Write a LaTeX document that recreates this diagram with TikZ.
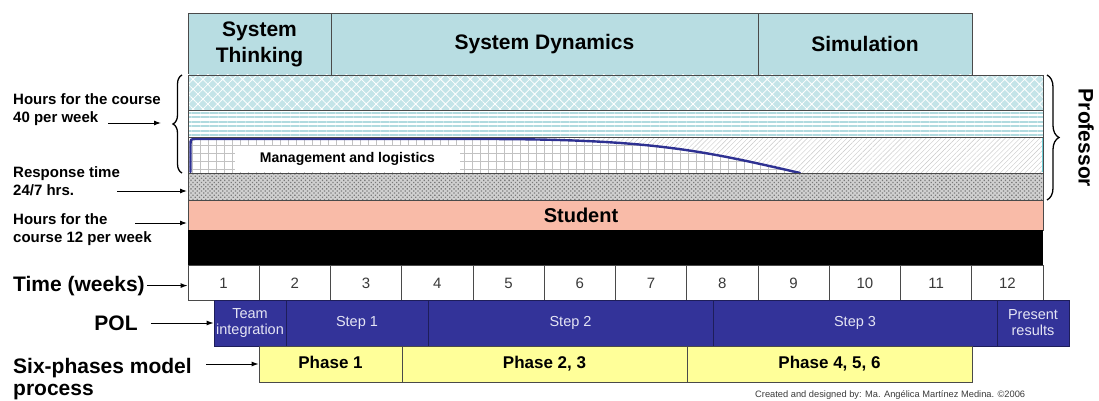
\documentclass[tikz,border=0pt]{standalone}
\usepackage{fontspec}
\setmainfont{Liberation Sans}
\usetikzlibrary{patterns,patterns.meta,arrows.meta,decorations.pathreplacing}
\definecolor{hdr}{HTML}{B8DDE2}
\definecolor{bandA}{HTML}{C4E4E8}
\definecolor{bandB}{HTML}{B0DADF}
\definecolor{diag}{HTML}{C8C8C8}
\definecolor{gridc}{HTML}{C2C2C2}
\definecolor{dotc}{HTML}{7A7A7A}
\definecolor{dotbg}{HTML}{D0D0D0}
\definecolor{studc}{HTML}{F9BBA8}
\definecolor{polc}{HTML}{333399}
\definecolor{polline}{HTML}{1E1E5A}
\definecolor{poltext}{HTML}{E4E4F4}
\definecolor{phasec}{HTML}{FFFF99}
\definecolor{edgec}{HTML}{4A4A4A}
\definecolor{curvec}{HTML}{2E3192}
\definecolor{numc}{HTML}{3A3A3A}
\definecolor{edgecyan}{HTML}{70D0D8}
\newcommand{\fsz}[2]{\fontsize{#1}{#2}\selectfont}
\begin{document}
\begin{tikzpicture}[x=1pt,y=-1pt,
  hdrbox/.style={draw=edgec,fill=hdr,line width=0.8pt,inner sep=0pt,align=center,font=\bfseries\fsz{21}{26}},
  weekcell/.style={draw=edgec,fill=white,line width=0.8pt,minimum width=71.25pt,minimum height=35pt,inner sep=0pt,text=numc,font=\fsz{15}{18}},
  polcell/.style={draw=polline,fill=polc,line width=0.8pt,minimum height=46pt,inner sep=0pt,text=poltext,align=center,font=\fsz{14.5}{16}},
  phasecell/.style={draw=edgec,fill=phasec,line width=0.8pt,minimum height=36pt,inner sep=0pt,text height=12.5pt,text depth=3.5pt,font=\bfseries\fsz{17}{20}},
  sidelbl/.style={inner sep=0pt,align=left,font=\bfseries\fsz{15}{18}},
  biglbl/.style={inner sep=0pt,align=left,font=\bfseries\fsz{21}{22}},
  arr/.style={line width=1pt,-{Latex[length=7pt,width=5pt]}},
  bandline/.style={draw=edgec,line width=0.8pt},
  bracestyle/.style={decorate,line width=1.3pt},
]
\useasboundingbox (0,0) rectangle (1099,401);

% header
\node[hdrbox,minimum width=143pt,minimum height=62pt] (hst) at (259.5,44) {System\\Thinking};
\node[hdrbox,minimum width=427pt,minimum height=62pt] (hsd) at (544.5,44) {System Dynamics};
\node[hdrbox,minimum width=214pt,minimum height=62pt] (hsim) at (865,44) {Simulation};

% patterned bands
\fill[bandA] (188,75) rectangle (1043,110);
\path[pattern={Hatch[angle=45,distance=7pt,line width=0.8pt]},pattern color=white] (188,75) rectangle (1043,110);
\path[pattern={Lines[angle=0,distance=4.5pt,line width=2pt]},pattern color=bandB] (188,110) rectangle (1043,137);
\path[pattern={Lines[angle=45,distance=3.5pt,line width=0.4pt]},pattern color=diag] (188,137) rectangle (1043,173);
\fill[dotbg] (188,173) rectangle (1043,200);
\path[pattern={Dots[angle=45,distance=3pt,radius=0.9pt]},pattern color=dotc] (188,173) rectangle (1043,200);

% management region
\path[preaction={fill=white},pattern={Hatch[angle=0,distance=8pt,line width=0.5pt]},pattern color=gridc]
  (190.5,173) -- (190.5,145) .. controls (190.5,139) .. (196.5,139) -- (480,139)
  .. controls (650,139) and (700,150) .. (800,173) -- cycle;
\node[fill=white,inner sep=0pt,minimum width=225pt,minimum height=26pt,font=\bfseries\fsz{14}{16}] (mgmt) at (347.5,158.5) {Management and logistics};
\draw[curvec,line width=2.4pt,line cap=round] (190.5,172) -- (190.5,145) .. controls (190.5,139) .. (196.5,139) -- (480,139)
  .. controls (650,139) and (700,150) .. (800,173);
\draw[edgecyan,line width=1pt] (1042.5,138) -- (1042.5,172);

% band borders
\draw[bandline] (188,75) rectangle (1043,200);
\draw[bandline] (188,110) -- (1043,110);
\draw[bandline] (188,137) -- (1043,137);
\draw[bandline] (188,173) -- (1043,173);

% student and black bands
\path[draw=edgec,fill=studc,line width=0.8pt] (188,200) rectangle (1043,230);
\node[font=\bfseries\fsz{20}{24}] (student) at (581,215) {Student};
\fill[black] (188,230) rectangle (1043,265.5);

% weeks
\foreach \i in {1,...,12}
  \node[weekcell] (w\i) at ({188+71.25*(\i-0.5)},283) {\i};

% POL
\node[polcell,minimum width=72pt] (pol1) at (250,323) {Team\\integration};
\node[polcell,minimum width=142pt] (pol2) at (357,323) {Step 1};
\node[polcell,minimum width=285pt] (pol3) at (570.5,323) {Step 2};
\node[polcell,minimum width=284pt] (pol4) at (855,323) {Step 3};
\node[polcell,minimum width=72pt] (pol5) at (1033,323) {Present\\results};

% phases
\node[phasecell,minimum width=143pt] (ph1) at (330.5,364) {Phase 1};
\node[phasecell,minimum width=285pt] (ph2) at (544.5,364) {Phase 2, 3};
\node[phasecell,minimum width=285pt] (ph3) at (829.5,364) {Phase 4, 5, 6};

% braces
\coordinate (lbtop) at (182,75);
\coordinate (lbbot) at (182,173);
\draw[bracestyle,decoration={brace,amplitude=9pt}] (lbbot) -- (lbtop);
\coordinate (rbtop) at (1047,75);
\coordinate (rbbot) at (1047,200);
\draw[bracestyle,decoration={brace,amplitude=12pt}] (rbtop) -- (rbbot);
\node[rotate=-90,font=\bfseries\fsz{21}{25},inner sep=0pt] (prof) at (1086,138) {Professor};

% left labels
\node[sidelbl,anchor=west] (hrs40) at (13,110) {Hours for the course\\40 per week};
\coordinate (a1s) at (108,123);
\coordinate (a1e) at (161,123);
\draw[arr] (a1s) -- (a1e);
\node[sidelbl,anchor=west] (resp) at (13,181.5) {Response time\\24/7 hrs.};
\coordinate (a2s) at (117,191);
\coordinate (a2e) at (187,191);
\draw[arr] (a2s) -- (a2e);
\node[sidelbl,anchor=west] (hrs12) at (13,230) {Hours for the\\course 12 per week};
\coordinate (a3s) at (135,223);
\coordinate (a3e) at (187,223);
\draw[arr] (a3s) -- (a3e);

\node[biglbl,anchor=base west] (timelbl) at (13,291) {Time (weeks)};
\draw[arr] ([xshift=2pt]timelbl.east) -- (timelbl.east -| w1.west);
\node[biglbl] (pollbl) at (116,323) {POL};
\draw[arr] ([xshift=13pt]pollbl.east) -- (pol1.west);
\node[biglbl,anchor=west] (sixlbl) at (13,379) {Six-phases model\\process};
\coordinate (a6s) at (206,364);
\draw[arr] (a6s) -- (ph1.west);

\node[anchor=base west,inner sep=0pt,text=numc,font=\fsz{9.3}{11}] (credit) at (755,397) {Created and designed by: Ma. Angélica Martínez Medina. ©2006};
\end{tikzpicture}
\end{document}
